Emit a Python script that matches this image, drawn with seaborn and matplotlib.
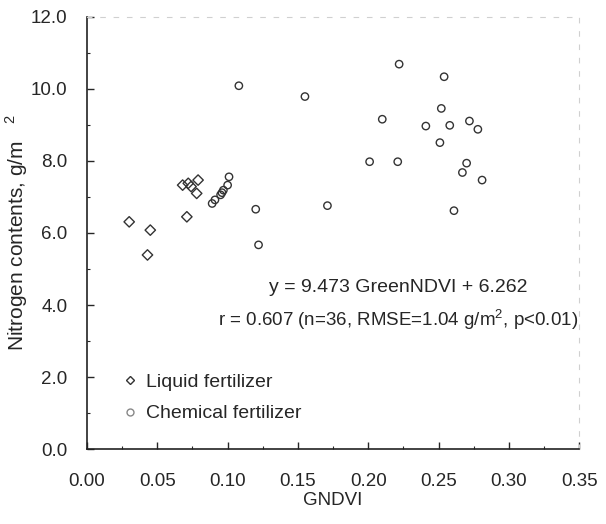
import matplotlib
matplotlib.use('Agg')
import matplotlib.pyplot as plt
import pandas as pd
import seaborn as sns
from matplotlib.ticker import MultipleLocator, FormatStrFormatter

# GNDVI / nitrogen content (g/m2)
liquid_x = [0.030, 0.045, 0.043, 0.071, 0.068, 0.074, 0.079, 0.078, 0.072]
liquid_y = [6.31, 6.08, 5.39, 6.45, 7.33, 7.29, 7.47, 7.10, 7.38]

chem_x = [0.089, 0.091, 0.095, 0.097, 0.100, 0.101, 0.096, 0.120, 0.122, 0.108,
          0.222, 0.254, 0.155, 0.252, 0.210, 0.241, 0.258, 0.272, 0.278, 0.251,
          0.201, 0.221, 0.270, 0.267, 0.281, 0.171, 0.261]
chem_y = [6.82, 6.92, 7.06, 7.19, 7.33, 7.56, 7.12, 6.66, 5.67, 10.09,
          10.69, 10.34, 9.79, 9.46, 9.16, 8.97, 8.99, 9.11, 8.88, 8.51,
          7.98, 7.98, 7.94, 7.68, 7.47, 6.76, 6.62]

groups = ['Liquid fertilizer', 'Chemical fertilizer']

data = pd.DataFrame({
    'x': liquid_x + chem_x,
    'y': liquid_y + chem_y,
    'group': [groups[0]] * len(liquid_x) + [groups[1]] * len(chem_x),
})

sns.set_style('ticks')
plt.rcParams['font.family'] = ['Liberation Sans', 'DejaVu Sans']
plt.rcParams['mathtext.fontset'] = 'custom'
plt.rcParams['mathtext.rm'] = 'Liberation Sans'

fig = plt.figure(figsize=(6.06, 5.24), dpi=100)
ax = fig.add_axes([0.1436, 0.1431, 0.8120, 0.8245])

sns.scatterplot(data=data, x='x', y='y', hue='group', style='group',
                markers={groups[0]: 'D', groups[1]: 'o'},
                palette={groups[0]: '#333333', groups[1]: '#666666'},
                s=28, linewidth=1.0, ax=ax, legend=False)
# open markers
for coll, col in zip(ax.collections, ['#333333', '#777777']):
    coll.set_facecolor('none')
    coll.set_edgecolor(col)

ax.set_xlim(0, 0.35)
ax.set_ylim(0, 12)
ax.xaxis.set_major_locator(MultipleLocator(0.05))
ax.yaxis.set_major_locator(MultipleLocator(2))
ax.xaxis.set_minor_locator(MultipleLocator(0.025))
ax.yaxis.set_minor_locator(MultipleLocator(1))
ax.xaxis.set_major_formatter(FormatStrFormatter('%.2f'))
ax.yaxis.set_major_formatter(FormatStrFormatter('%.1f'))
ax.tick_params(which='major', direction='in', length=5, width=1, labelsize=13.5)
ax.tick_params(axis='x', which='major', pad=17)
ax.tick_params(axis='y', which='major', pad=14)
ax.tick_params(which='minor', direction='in', length=2, width=0.8)

for side in ['left', 'bottom']:
    ax.spines[side].set_color('#222222')
    ax.spines[side].set_linewidth(1.2)
for side in ['top', 'right']:
    ax.spines[side].set_color('#d0d0d0')
    ax.spines[side].set_linewidth(0.8)
    ax.spines[side].set_linestyle((0, (4, 8)))

ax.set_xlabel('GNDVI', fontsize=13.5, labelpad=2)
ax.set_ylabel('Nitrogen contents, g/m   $^{2}$', fontsize=15, labelpad=1)

ax.text(0.2215, 4.5, 'y = 9.473 GreenNDVI + 6.262', fontsize=14,
        ha='center', va='center')
ax.text(0.349, 3.6, 'r = 0.607 (n=36, RMSE=1.04 g/m$^{2}$, p<0.01)', fontsize=13.5,
        ha='right', va='center')

# legend drawn by hand to match the scan
handles = [plt.Line2D([], [], marker='D', ls='', ms=4.5, mfc='none', mec='#333333', mew=1.0),
           plt.Line2D([], [], marker='o', ls='', ms=5, mfc='none', mec='#888888', mew=1.0)]
ax.legend(handles, groups, loc='lower left', bbox_to_anchor=(0.04, 0.03),
          frameon=False, fontsize=14, handletextpad=0.3, handlelength=1.0,
          labelspacing=0.7, borderpad=0.2)

fig.savefig('out.png', dpi=100)
